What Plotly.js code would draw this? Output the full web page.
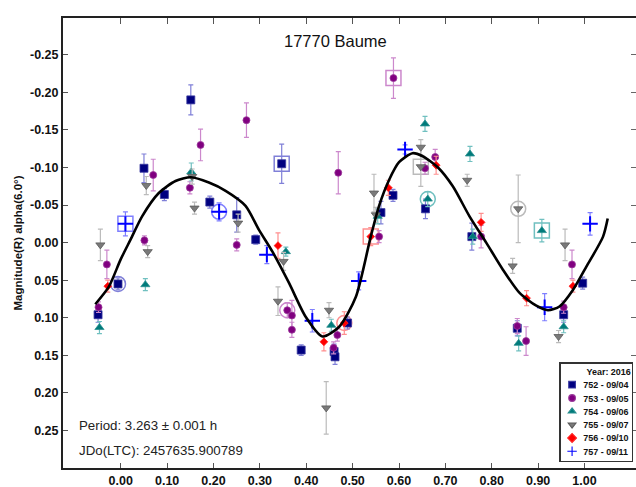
<!DOCTYPE html>
<html><head><meta charset="utf-8">
<script src="https://cdn.plot.ly/plotly-3.0.1.min.js"></script>
<style>body{margin:0;background:#fff}#chart{width:636px;height:487px}</style>
</head><body><div id="chart"></div>
<script>
// ---- tick labels ----
const phaseTicks = [0.0,0.1,0.2,0.3,0.4,0.5,0.6,0.7,0.8,0.9,1.0];
const phaseTickText = ['0.00','0.10','0.20','0.30','0.40','0.50','0.60','0.70','0.80','0.90','1.00'];
const magTicks = [-0.25,-0.20,-0.15,-0.10,-0.05,0.00,0.05,0.10,0.15,0.20,0.25];
const magTickText = ['-0.25','-0.20','-0.15','-0.10','-0.05','0.00','0.05','0.10','0.15','0.20','0.25'];

// ---- series (phase, magnitude, error) ----
const seriesNames = ['752 - 09/04','753 - 09/05','754 - 09/06','755 - 09/07','756 - 09/10','757 - 09/11'];

const x752 = [-0.049,-0.006,0.050,0.094,0.151,0.192,0.250,0.291,0.347,0.389,0.460,0.462,0.489,0.561,0.587,0.657,0.757,0.855,0.955,0.996];
const y752 = [0.096,0.055,-0.099,-0.064,-0.190,-0.054,-0.037,-0.004,-0.105,0.143,0.145,0.152,0.107,-0.040,-0.063,-0.045,-0.008,0.114,0.096,0.054];
const e752 = [0.010,0.008,0.019,0.008,0.020,0.008,0.023,0.006,0.026,0.007,0.010,0.010,0.008,0.015,0.008,0.013,0.018,0.010,0.010,0.008];

const x753 = [-0.048,-0.030,0.051,0.070,0.149,0.172,0.250,0.271,0.359,0.369,0.369,0.459,0.467,0.469,0.557,0.588,0.656,0.678,0.777,0.855,0.874,0.955,0.973];
const y753 = [0.086,0.029,-0.003,-0.090,-0.073,-0.130,0.003,-0.163,0.090,0.097,0.116,0.140,0.123,-0.093,-0.008,-0.219,-0.099,-0.114,-0.008,0.111,0.131,0.086,0.029];
const e753 = [0.007,0.019,0.006,0.021,0.008,0.021,0.008,0.023,0.010,0.020,0.010,0.008,0.008,0.028,0.008,0.027,0.008,0.010,0.015,0.010,0.019,0.008,0.019];

const x754 = [-0.046,0.053,0.152,0.356,0.454,0.554,0.656,0.662,0.753,0.759,0.858,0.908,0.955];
const y754 = [0.113,0.056,-0.094,0.012,0.110,-0.035,-0.158,-0.058,-0.118,-0.008,0.134,-0.016,0.112];
const e754 = [0.008,0.008,0.012,0.006,0.008,0.010,0.010,0.010,0.010,0.010,0.010,0.015,0.008];

const x755 = [-0.044,0.055,0.058,0.154,0.159,0.253,0.339,0.351,0.443,0.449,0.546,0.550,0.647,0.647,0.747,0.845,0.857,0.944,0.958];
const y755 = [0.003,-0.076,0.012,-0.088,-0.046,-0.026,0.078,0.025,0.220,0.090,-0.066,-0.037,-0.127,-0.101,-0.083,0.031,-0.045,0.125,0.003];
const e755 = [0.021,0.012,0.008,0.010,0.008,0.012,0.019,0.012,0.035,0.010,0.025,0.010,0.010,0.026,0.008,0.010,0.045,0.008,0.021];

const x756 = [-0.028,0.339,0.438,0.482,0.539,0.577,0.680,0.777,0.875,0.975];
const y756 = [0.058,0.004,0.132,0.107,-0.008,-0.073,-0.103,-0.027,0.074,0.058];
const e756 = [0.008,0.017,0.012,0.015,0.012,0.010,0.012,0.012,0.010,0.008];

const x757 = [0.010,0.212,0.315,0.413,0.513,0.613,0.914,1.012];
const y757 = [-0.025,-0.041,0.016,0.104,0.051,-0.124,0.086,-0.025];
const e757 = [0.016,0.012,0.012,0.015,0.012,0.006,0.018,0.015];

// ---- Fourier fit curve ----
const fitPhase = [-0.055,-0.026,0.000,0.021,0.046,0.082,0.118,0.151,0.190,0.226,0.269,0.298,0.327,0.363,0.399,0.435,0.471,0.507,0.539,0.557,0.579,0.600,0.629,0.651,0.684,0.716,0.752,0.788,0.824,0.860,0.896,0.921,0.946,0.975,1.004,1.040,1.050];
const fitMag = [0.082,0.059,0.022,-0.004,-0.035,-0.066,-0.082,-0.087,-0.080,-0.069,-0.049,-0.017,0.012,0.054,0.099,0.125,0.112,0.072,-0.008,-0.049,-0.084,-0.107,-0.119,-0.115,-0.100,-0.075,-0.035,0.000,0.036,0.067,0.084,0.090,0.085,0.063,0.032,-0.008,-0.032];

// ---- highlighted points (open ring markers) ----
const ringCircleX = [-0.006,0.212,0.359,0.482,0.662,0.857];
const ringCircleY = [0.055,-0.041,0.090,0.107,-0.058,-0.045];
const ringCircleSeries = [0,5,1,4,2,3];
const ringSquareX = [0.010,0.347,0.539,0.588,0.647,0.908];
const ringSquareY = [-0.025,-0.105,-0.008,-0.219,-0.101,-0.016];
const ringSquareSeries = [5,0,4,1,3,2];

// ---- styling ----
const markerColors = ['#000080','#800080','#007b7b','#7a7a7a','#ff0000','#0000ff'];
const markerLines = ['#3a3aa0','#9a3a9a','#2a8f8f','#5a5a5a','#ff2020','#0000ff'];
const errColors = ['#8080d8','#cc88cc','#70c0c0','#bbbbbb','#ff8f8f','#7f7fff'];
const symbols = ['square','circle','triangle-up','triangle-down','diamond','cross-thin'];
const sizes = [8,7,8,8,6,11];

const xs = [x752,x753,x754,x755,x756,x757];
const ys = [y752,y753,y754,y755,y756,y757];
const es = [e752,e753,e754,e755,e756,e757];

const FONT = 'Arial, "Liberation Sans", sans-serif';
const traces = [];

traces.push({x: ringCircleX, y: ringCircleY, mode:'markers', type:'scatter', showlegend:false, hoverinfo:'skip',
  marker:{symbol:'circle-open', size:15, color: ringCircleSeries.map(i=>errColors[i]), line:{width:1.5, color: ringCircleSeries.map(i=>errColors[i])}}});
traces.push({x: ringSquareX, y: ringSquareY, mode:'markers', type:'scatter', showlegend:false, hoverinfo:'skip',
  marker:{symbol:'square-open', size:15, color: ringSquareSeries.map(i=>errColors[i]), line:{width:1.5, color: ringSquareSeries.map(i=>errColors[i])}}});

for (let i=0;i<6;i++){
  traces.push({
    x: xs[i], y: ys[i], name: seriesNames[i], type:'scatter', mode:'markers',
    error_y:{type:'data', array: es[i], visible:true, color: errColors[i], thickness:1.2, width:2.5},
    marker:{symbol: symbols[i], size: sizes[i], color: markerColors[i],
      line:{width: i===5 ? 2 : 0.8, color: markerLines[i]}}
  });
}

traces.push({x: fitPhase, y: fitMag, mode:'lines', type:'scatter', showlegend:false,
  line:{color:'#000', width:2.6, shape:'spline', smoothing:0.7}});

traces.push({x:[], y:[], xaxis:'x2', yaxis:'y2', showlegend:false, type:'scatter', mode:'markers'});

const xr = [-0.1246, 1.111];
const yr = [0.300, -0.299];

const layout = {
  width:636, height:487,
  margin:{l:63, r:0, t:18, b:19},
  paper_bgcolor:'#fff', plot_bgcolor:'#fff',
  font:{family:FONT, color:'#111'},
  showlegend:true,
  xaxis:{range:xr, tickvals:phaseTicks, ticktext:phaseTickText, ticks:'inside', ticklen:5, tickcolor:'#555',
    showline:true, linecolor:'#222', linewidth:2, showgrid:false, zeroline:false,
    tickfont:{family:FONT, size:12.5, weight:'bold', color:'#111'}},
  yaxis:{range:yr, tickvals:magTicks, ticktext:magTickText, ticks:'inside', ticklen:5, tickcolor:'#555',
    showline:true, linecolor:'#222', linewidth:2, showgrid:false, zeroline:false,
    tickfont:{family:FONT, size:12.5, weight:'bold', color:'#111'},
    title:{text:'Magnitude(R) alpha(6.0°)', standoff:5, font:{family:FONT, size:11.5, weight:'bold', color:'#111'}}},
  xaxis2:{overlaying:'x', side:'top', range:xr, tickvals:phaseTicks, ticks:'inside', ticklen:6, tickcolor:'#555',
    showticklabels:false, showline:true, linecolor:'#222', linewidth:2, showgrid:false, zeroline:false},
  yaxis2:{overlaying:'y', side:'right', range:yr, tickvals:magTicks, ticks:'inside', ticklen:5, tickcolor:'#666',
    showticklabels:false, showline:false, showgrid:false, zeroline:false},
  legend:{x:0.99, y:0.02, xanchor:'right', yanchor:'bottom', bgcolor:'#fff', bordercolor:'#333', borderwidth:2.5,
    font:{family:FONT, size:16, weight:'bold', color:'#111'}, itemsizing:'constant',
    title:{text:'Year: 2016', side:'top right', font:{family:FONT, size:16, weight:'bold', color:'#111'}},
    itemwidth:30, tracegroupgap:0},
  annotations:[
    {text:'17770 Baume', xref:'paper', yref:'paper', x:0.475, y:0.949, xanchor:'center', yanchor:'middle', showarrow:false,
     font:{family:FONT, size:16.5, color:'#111'}},
    {text:'Period: 3.263 ± 0.001 h', xref:'paper', yref:'paper', x:0.0244, y:0.095, xanchor:'left', yanchor:'middle', showarrow:false,
     font:{family:FONT, size:13.3, color:'#222'}},
    {text:'JDo(LTC): 2457635.900789', xref:'paper', yref:'paper', x:0.0244, y:0.038, xanchor:'left', yanchor:'middle', showarrow:false,
     font:{family:FONT, size:13.3, color:'#222'}}
  ]
};

Plotly.newPlot('chart', traces, layout, {displayModeBar:false, staticPlot:true}).then(function(){
  const lg = document.querySelector('.legend');
  if (!lg) return;
  const bg = lg.querySelector('rect.bg');
  const w = parseFloat(bg.getAttribute('width')) || 0;
  const h = parseFloat(bg.getAttribute('height')) || 0;
  const s = 0.56;
  lg.setAttribute('transform', 'translate(' + (632 - w*s) + ',' + (461 - h*s) + ') scale(' + s + ')');
});
</script>
</body></html>
